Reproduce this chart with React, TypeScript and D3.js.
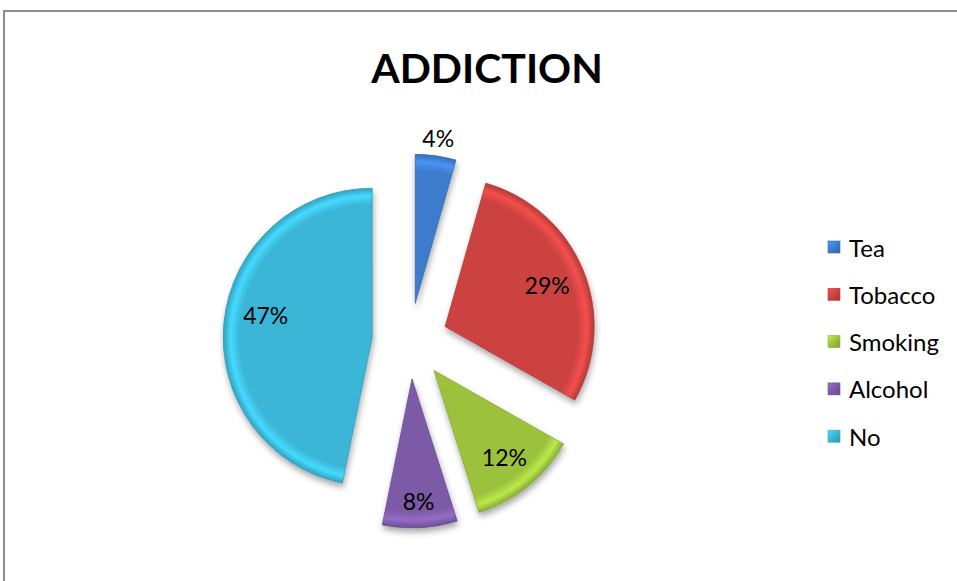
import React from "react";
import * as d3 from "d3";

const categories = ["Tea", "Tobacco", "Smoking", "Alcohol", "No"];
const values = [4.4, 28.8, 11.9, 8.1, 46.8];
const labels = ["4%", "29%", "12%", "8%", "47%"];
const colors = ["#3d7ccc", "#cc4240", "#9cc23e", "#7c5aa6", "#3ab6d6"];
const title = "ADDICTION";

const W = 957;
const H = 581;
const CX = 410;
const CY = 341;
const R = 149;
const EXPLODE = 38;
const FONT = "Lato, 'Open Sans', sans-serif";

export default function App() {
  const pie = d3.pie<number>().sort(null).value((d) => d);
  const arcs = pie(values);
  const arcGen = d3.arc<d3.PieArcDatum<number>>().innerRadius(0).outerRadius(R);
  const labelR = [1.12, 0.74, 0.75, 0.82, 0.73];
  const labelShift = [0, 0, 0, 0, 6];

  return (
    <svg
      width={W}
      height={H}
      style={{ position: "absolute", left: 0, top: 0, background: "#fff" }}
    >
      <defs>
        {colors.map((c, i) => {
          const light = d3.color(c)!.brighter(0.5).formatHex();
          const dark = d3.color(c)!.darker(0.35).formatHex();
          return (
            <radialGradient
              key={i}
              id={`g${i}`}
              gradientUnits="userSpaceOnUse"
              cx={0}
              cy={0}
              r={R}
            >
              <stop offset="0%" stopColor={c} />
              <stop offset="89%" stopColor={c} />
              <stop offset="95%" stopColor={light} />
              <stop offset="100%" stopColor={dark} />
            </radialGradient>
          );
        })}
        {colors.map((c, i) => (
          <linearGradient key={"l" + i} id={`lg${i}`} x1="0" y1="0" x2="1" y2="1">
            <stop offset="0%" stopColor={d3.color(c)!.brighter(0.6).formatHex()} />
            <stop offset="50%" stopColor={c} />
            <stop offset="100%" stopColor={d3.color(c)!.darker(0.5).formatHex()} />
          </linearGradient>
        ))}
        <filter id="shadow" x="-20%" y="-20%" width="140%" height="140%">
          <feGaussianBlur in="SourceAlpha" stdDeviation="3" />
          <feOffset dx="1" dy="4" result="b" />
          <feComponentTransfer>
            <feFuncA type="linear" slope="0.35" />
          </feComponentTransfer>
          <feMerge>
            <feMergeNode />
            <feMergeNode in="SourceGraphic" />
          </feMerge>
        </filter>
      </defs>

      <rect x={4} y={11} width={W + 10} height={H + 10} fill="none" stroke="#8c8c8c" strokeWidth={2} />

      <text
        x={487}
        y={83}
        textAnchor="middle"
        fontFamily={FONT}
        fontWeight="bold"
        fontSize={41}
        fill="#000"
      >
        {title}
      </text>

      {arcs.map((a, i) => {
        const mid = (a.startAngle + a.endAngle) / 2;
        const ox = CX + EXPLODE * Math.sin(mid);
        const oy = CY - EXPLODE * Math.cos(mid);
        const lr = R * labelR[i];
        const la = mid + (labelShift[i] * Math.PI) / 180;
        return (
          <g key={categories[i]} transform={`translate(${ox},${oy})`}>
            <path
              d={arcGen(a) || ""}
              fill={`url(#g${i})`}
              stroke={d3.color(colors[i])!.darker(0.4).formatHex()}
              strokeWidth={0.8}
              strokeLinejoin="round"
              filter="url(#shadow)"
            />
            <text
              x={lr * Math.sin(la)}
              y={-lr * Math.cos(la)}
              textAnchor="middle"
              dominantBaseline="central"
              fontFamily={FONT}
              fontSize={23}
              fill="#000"
            >
              {labels[i]}
            </text>
          </g>
        );
      })}

      {categories.map((c, i) => {
        const y = 247 + i * 47.3;
        return (
          <g key={"leg" + c}>
            <rect x={828} y={y - 6} width={12} height={12} fill={`url(#lg${i})`} stroke={d3.color(colors[i])!.darker(0.3).formatHex()} strokeWidth={0.6} />
            <text
              x={849}
              y={y}
              dominantBaseline="central"
              fontFamily={FONT}
              fontSize={24}
              fill="#000"
            >
              {c}
            </text>
          </g>
        );
      })}
    </svg>
  );
}
